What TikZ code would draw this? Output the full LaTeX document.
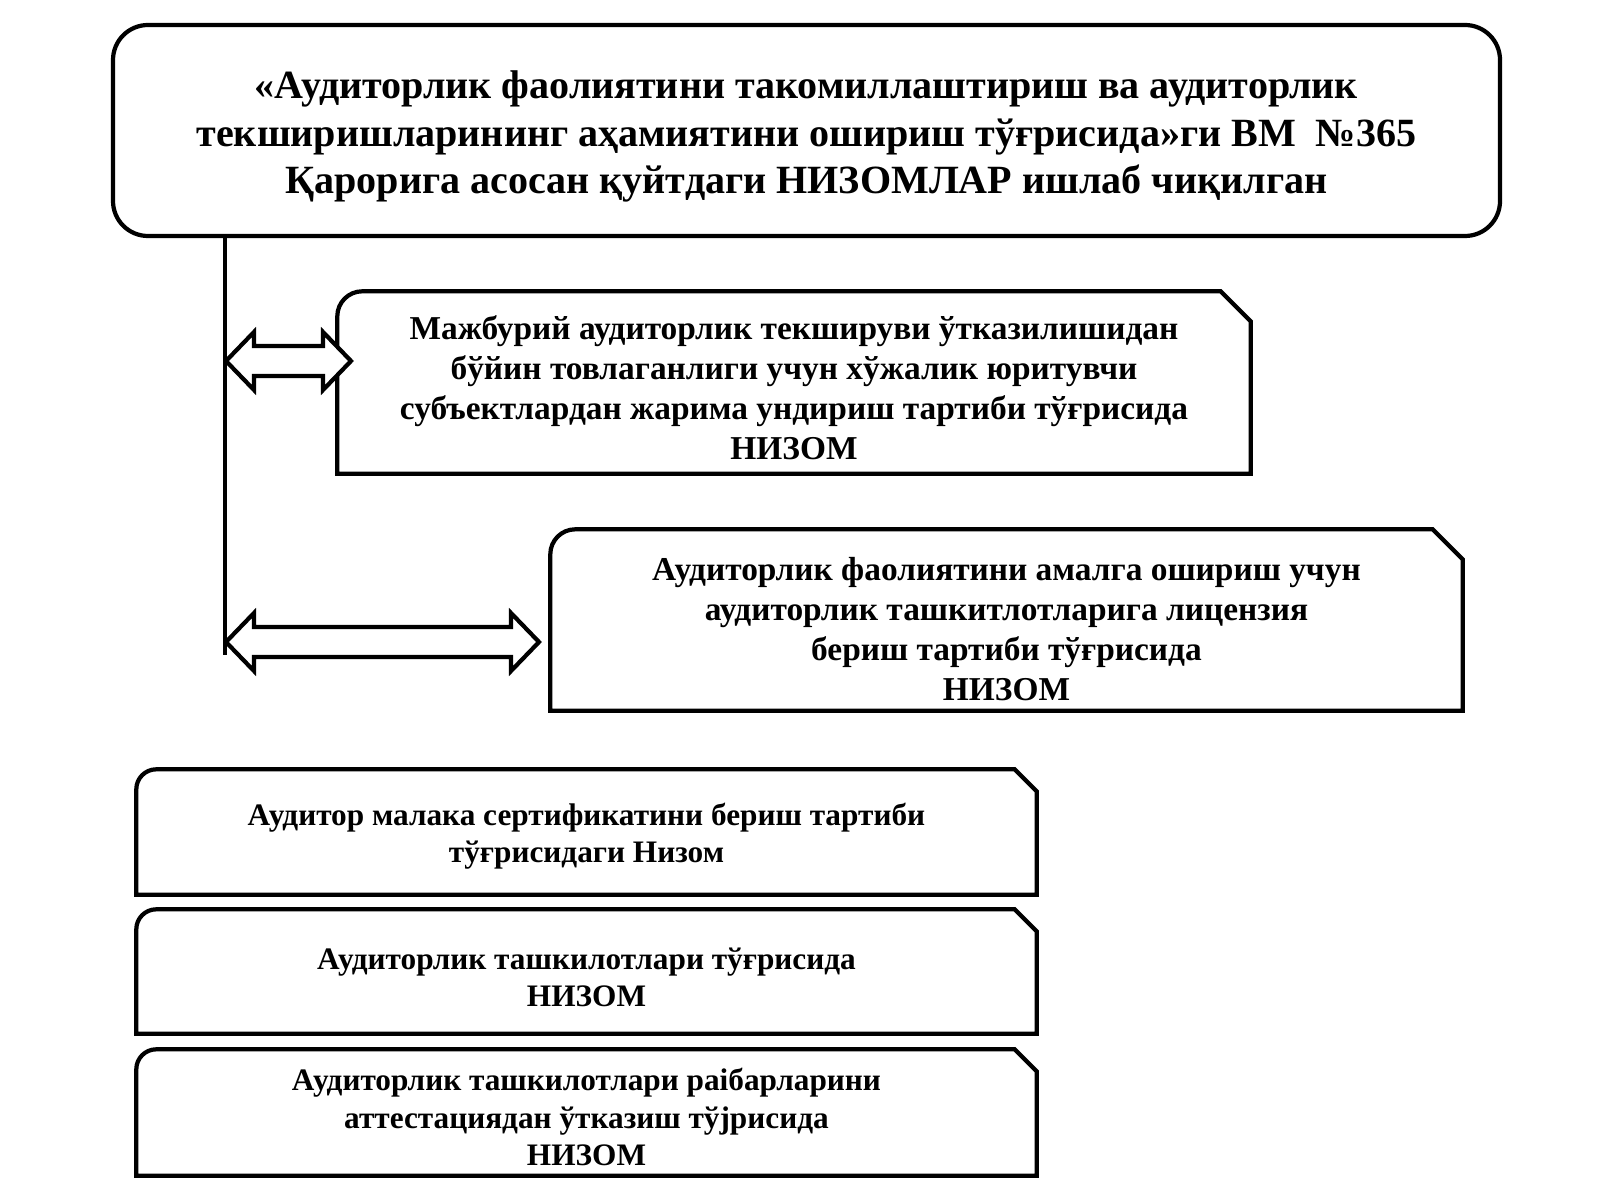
\documentclass[tikz,border=0pt]{standalone}
\usepackage{fontspec}
\setmainfont{Liberation Serif}
\usetikzlibrary{calc}

\tikzstyle{outline} = [line width=1.2pt, line join=miter]
\tikzstyle{decree} = [rectangle, draw, line width=1.2pt, rounded corners=0.35cm,
  minimum width=13.87cm, minimum height=2.11cm]
\tikzstyle{frame} = [rectangle, inner sep=0pt]
\tikzstyle{heading} = [text centered, align=center,
  font=\fontsize{11.4}{13.4}\selectfont\bfseries]
\tikzstyle{rule} = [text centered, align=center,
  font=\fontsize{9.5}{11.4}\selectfont\bfseries]
\tikzstyle{smallrule} = [text centered, align=center,
  font=\fontsize{8.9}{10.6}\selectfont\bfseries]

% box with one round corner (top left) and one cut corner (top right)
\newcommand{\docframe}[3]{%
  \draw[outline] (#1.south west) -- ([yshift=-#2]#1.north west)
    arc[start angle=180, end angle=90, radius=#2]
    -- ([xshift=-#3]#1.north east) -- ([yshift=-#3]#1.north east)
    -- (#1.south east) -- cycle;}

% hollow arrow with a head at both ends
\newcommand{\blockarrow}[2]{%
  \draw[outline, fill=white] (#1) -- ++(0.28,0.29) -- ++(0,-0.14)
    -- ($(#2)+(-0.28,0.15)$) -- ++(0,0.14) -- (#2) -- ++(-0.28,-0.29)
    -- ++(0,0.14) -- ($(#1)+(0.28,-0.15)$) -- ++(0,-0.14) -- cycle;}

\begin{document}
\begin{tikzpicture}
  \useasboundingbox (0,0) rectangle (16,12);

  \node[decree] (decree) at (8.065,10.695) {};
  \node[heading] (decree text) at ($(decree)+(0,-0.06)$)
    {«Аудиторлик фаолиятини такомиллаштириш ва аудиторлик\\
     текширишларининг аҳамиятини ошириш тўғрисида»ги ВМ\ \ №365\\
     Қарорига асосан қуйтдаги НИЗОМЛАР ишлаб чиқилган};

  \node[frame, minimum width=9.12cm, minimum height=1.81cm] (fine) at (7.94,8.175) {};
  \docframe{fine}{0.25cm}{0.30cm}
  \node[rule] (fine text) at ($(fine)+(0,-0.055)$)
    {Мажбурий аудиторлик текшируви ўтказилишидан\\
     бўйин товлаганлиги учун хўжалик юритувчи\\
     субъектлардан жарима ундириш тартиби тўғрисида\\
     НИЗОМ};

  \node[frame, minimum width=9.11cm, minimum height=1.80cm] (licence) at (10.065,5.80) {};
  \docframe{licence}{0.25cm}{0.30cm}
  \node[rule] (licence text) at ($(licence)+(0,-0.09)$)
    {Аудиторлик фаолиятини амалга ошириш учун\\
     аудиторлик ташкитлотларига лицензия\\
     бериш тартиби тўғрисида\\
     НИЗОМ};

  \node[frame, minimum width=8.99cm, minimum height=1.24cm] (certificate) at (5.865,3.68) {};
  \docframe{certificate}{0.2cm}{0.22cm}
  \node[smallrule] (certificate text) at ($(certificate)+(0,-0.04)$)
    {Аудитор малака сертификатини бериш тартиби\\
     тўғрисидаги Низом};

  \node[frame, minimum width=8.99cm, minimum height=1.23cm] (firms) at (5.865,2.285) {};
  \docframe{firms}{0.2cm}{0.22cm}
  \node[smallrule] (firms text) at ($(firms)+(0,-0.055)$)
    {Аудиторлик ташкилотлари тўғрисида\\
     НИЗОМ};

  \node[frame, minimum width=8.99cm, minimum height=1.25cm] (heads) at (5.865,0.875) {};
  \docframe{heads}{0.2cm}{0.22cm}
  \node[smallrule] (heads text) at ($(heads)+(0,-0.045)$)
    {Аудиторлик ташкилотлари раібарларини\\
     аттестациядан ўтказиш тўјрисида\\
     НИЗОМ};

  % spine and the two arrows
  \coordinate (spine end) at (2.25,5.45);
  \draw[outline] (spine end |- decree.south) -- (spine end);
  \coordinate (fork 1) at (2.26,8.39);
  \coordinate (tip 1) at (3.51,8.39);
  \coordinate (fork 2) at (2.26,5.58);
  \coordinate (tip 2) at (5.39,5.58);
  \blockarrow{fork 1}{tip 1}
  \blockarrow{fork 2}{tip 2}
\end{tikzpicture}
\end{document}
